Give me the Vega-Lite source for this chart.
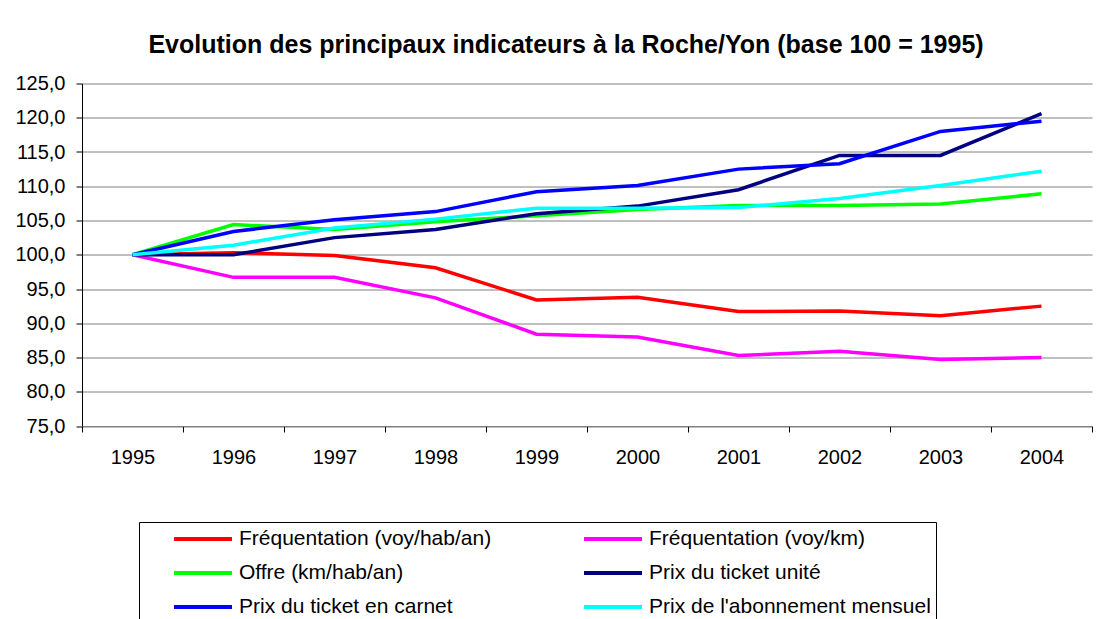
{
  "$schema": "https://vega.github.io/schema/vega-lite/v6.json",
  "width": 1010,
  "height": 342.5,
  "autosize": {"type": "none"},
  "padding": {"left": 82, "top": 83.5, "right": 17, "bottom": 193},
  "background": "white",
  "config": {"view": {"stroke": null}, "font": "Liberation Sans"},
  "title": {
    "text": "Evolution des principaux indicateurs à la Roche/Yon (base 100 = 1995)",
    "font": "Liberation Sans",
    "fontSize": 25,
    "fontWeight": "bold",
    "color": "black",
    "anchor": "middle",
    "baseline": "alphabetic",
    "offset": -4,
    "dx": -21
  },
  "data": {
    "values": [
      {"year": "1995", "series": "Fréquentation (voy/hab/an)", "value": 100.0},
      {"year": "1996", "series": "Fréquentation (voy/hab/an)", "value": 100.3},
      {"year": "1997", "series": "Fréquentation (voy/hab/an)", "value": 99.9},
      {"year": "1998", "series": "Fréquentation (voy/hab/an)", "value": 98.1},
      {"year": "1999", "series": "Fréquentation (voy/hab/an)", "value": 93.4},
      {"year": "2000", "series": "Fréquentation (voy/hab/an)", "value": 93.8},
      {"year": "2001", "series": "Fréquentation (voy/hab/an)", "value": 91.7},
      {"year": "2002", "series": "Fréquentation (voy/hab/an)", "value": 91.8},
      {"year": "2003", "series": "Fréquentation (voy/hab/an)", "value": 91.1},
      {"year": "2004", "series": "Fréquentation (voy/hab/an)", "value": 92.5},
      {"year": "1995", "series": "Fréquentation (voy/km)", "value": 100.0},
      {"year": "1996", "series": "Fréquentation (voy/km)", "value": 96.7},
      {"year": "1997", "series": "Fréquentation (voy/km)", "value": 96.7},
      {"year": "1998", "series": "Fréquentation (voy/km)", "value": 93.7},
      {"year": "1999", "series": "Fréquentation (voy/km)", "value": 88.4},
      {"year": "2000", "series": "Fréquentation (voy/km)", "value": 88.0},
      {"year": "2001", "series": "Fréquentation (voy/km)", "value": 85.3},
      {"year": "2002", "series": "Fréquentation (voy/km)", "value": 85.9},
      {"year": "2003", "series": "Fréquentation (voy/km)", "value": 84.7},
      {"year": "2004", "series": "Fréquentation (voy/km)", "value": 85.0},
      {"year": "1995", "series": "Offre (km/hab/an)", "value": 100.0},
      {"year": "1996", "series": "Offre (km/hab/an)", "value": 104.4},
      {"year": "1997", "series": "Offre (km/hab/an)", "value": 103.7},
      {"year": "1998", "series": "Offre (km/hab/an)", "value": 104.8},
      {"year": "1999", "series": "Offre (km/hab/an)", "value": 105.7},
      {"year": "2000", "series": "Offre (km/hab/an)", "value": 106.6},
      {"year": "2001", "series": "Offre (km/hab/an)", "value": 107.2},
      {"year": "2002", "series": "Offre (km/hab/an)", "value": 107.2},
      {"year": "2003", "series": "Offre (km/hab/an)", "value": 107.4},
      {"year": "2004", "series": "Offre (km/hab/an)", "value": 108.9},
      {"year": "1995", "series": "Prix du ticket unité", "value": 100.0},
      {"year": "1996", "series": "Prix du ticket unité", "value": 100.0},
      {"year": "1997", "series": "Prix du ticket unité", "value": 102.5},
      {"year": "1998", "series": "Prix du ticket unité", "value": 103.7},
      {"year": "1999", "series": "Prix du ticket unité", "value": 106.0},
      {"year": "2000", "series": "Prix du ticket unité", "value": 107.1},
      {"year": "2001", "series": "Prix du ticket unité", "value": 109.5},
      {"year": "2002", "series": "Prix du ticket unité", "value": 114.5},
      {"year": "2003", "series": "Prix du ticket unité", "value": 114.5},
      {"year": "2004", "series": "Prix du ticket unité", "value": 120.6},
      {"year": "1995", "series": "Prix du ticket en carnet", "value": 100.0},
      {"year": "1996", "series": "Prix du ticket en carnet", "value": 103.4},
      {"year": "1997", "series": "Prix du ticket en carnet", "value": 105.1},
      {"year": "1998", "series": "Prix du ticket en carnet", "value": 106.3},
      {"year": "1999", "series": "Prix du ticket en carnet", "value": 109.2},
      {"year": "2000", "series": "Prix du ticket en carnet", "value": 110.1},
      {"year": "2001", "series": "Prix du ticket en carnet", "value": 112.5},
      {"year": "2002", "series": "Prix du ticket en carnet", "value": 113.3},
      {"year": "2003", "series": "Prix du ticket en carnet", "value": 118.0},
      {"year": "2004", "series": "Prix du ticket en carnet", "value": 119.5},
      {"year": "1995", "series": "Prix de l'abonnement mensuel", "value": 100.0},
      {"year": "1996", "series": "Prix de l'abonnement mensuel", "value": 101.4},
      {"year": "1997", "series": "Prix de l'abonnement mensuel", "value": 103.9},
      {"year": "1998", "series": "Prix de l'abonnement mensuel", "value": 105.2},
      {"year": "1999", "series": "Prix de l'abonnement mensuel", "value": 106.8},
      {"year": "2000", "series": "Prix de l'abonnement mensuel", "value": 106.8},
      {"year": "2001", "series": "Prix de l'abonnement mensuel", "value": 106.9},
      {"year": "2002", "series": "Prix de l'abonnement mensuel", "value": 108.2},
      {"year": "2003", "series": "Prix de l'abonnement mensuel", "value": 110.1},
      {"year": "2004", "series": "Prix de l'abonnement mensuel", "value": 112.2}
    ]
  },
  "mark": {"type": "line", "strokeWidth": 3.5, "strokeJoin": "miter"},
  "encoding": {
    "x": {
      "field": "year",
      "type": "ordinal",
      "scale": {"type": "band", "paddingInner": 0, "paddingOuter": 0},
      "axis": {
        "title": null,
        "labelAngle": 0,
        "labelFontSize": 20,
        "labelColor": "black",
        "labelFont": "Liberation Sans",
        "labelPadding": 15,
        "domainColor": "#808080",
        "tickColor": "black",
        "tickSize": 6,
        "tickBand": "extent",
        "grid": false
      }
    },
    "y": {
      "field": "value",
      "type": "quantitative",
      "scale": {"domain": [75, 125], "nice": false, "zero": false},
      "axis": {
        "title": null,
        "values": [75, 80, 85, 90, 95, 100, 105, 110, 115, 120, 125],
        "labelExpr": "replace(format(datum.value, '.1f'), '.', ',')",
        "labelFontSize": 20,
        "labelColor": "black",
        "labelFont": "Liberation Sans",
        "labelPadding": 11,
        "domainColor": "black",
        "tickColor": "black",
        "tickSize": 6,
        "grid": true,
        "gridColor": "#808080",
        "gridWidth": 1,
        "gridOpacity": 1
      }
    },
    "color": {
      "field": "series",
      "type": "nominal",
      "scale": {
        "domain": ["Fréquentation (voy/hab/an)", "Fréquentation (voy/km)", "Offre (km/hab/an)", "Prix du ticket unité", "Prix du ticket en carnet", "Prix de l'abonnement mensuel"],
        "range": ["#FF0000", "#FF00FF", "#00FF00", "#000080", "#0000FF", "#00FFFF"]
      },
      "legend": {
        "title": null,
        "orient": "none",
        "legendX": 57,
        "legendY": 438.5,
        "direction": "horizontal",
        "columns": 2,
        "columnPadding": 62,
        "rowPadding": 12,
        "padding": 5,
        "strokeColor": "black",
        "fillColor": "white",
        "symbolType": "M-2.9,0H2.9",
        "symbolSize": 400,
        "symbolStrokeWidth": 4,
        "symbolOffset": 47,
        "labelFontSize": 21,
        "labelFont": "Liberation Sans",
        "labelColor": "black",
        "labelOffset": 24,
        "labelLimit": 400
      }
    }
  }
}
